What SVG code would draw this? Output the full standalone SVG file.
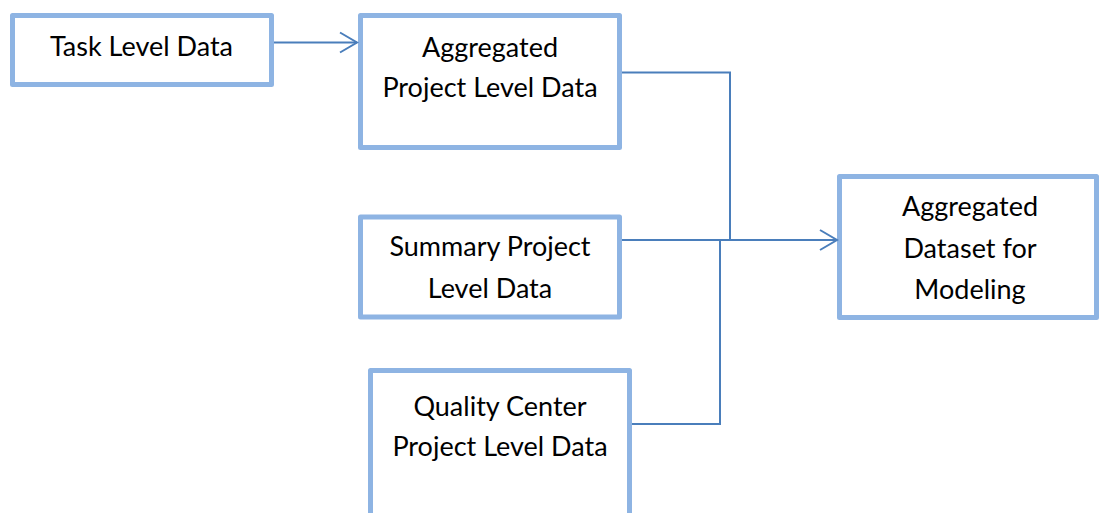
<svg xmlns="http://www.w3.org/2000/svg" width="1101" height="513" viewBox="0 0 1101 513">
<defs>
<style>
.box{fill:#fff;stroke:#8EB4E3;stroke-width:5;stroke-linejoin:round}
.lbl{font-family:Lato,"Liberation Sans",sans-serif;font-size:27px;fill:#000;text-anchor:middle}
.con{fill:none;stroke:#4A7EBB;stroke-width:2}
</style>
<marker id="arr" viewBox="0 0 20 24" refX="18" refY="12" markerWidth="20" markerHeight="24" markerUnits="userSpaceOnUse" orient="auto">
<path d="M1,2 L18,12 L1,22" fill="none" stroke="#4A7EBB" stroke-width="2"/>
</marker>
</defs>
<g id="n1"><rect class="box" x="12.5" y="15.5" width="259" height="69"/><text class="lbl" x="141.5" y="56">Task Level Data</text></g>
<g id="n2"><rect class="box" x="360.5" y="15.5" width="259" height="132"/><text class="lbl" x="490" y="57">Aggregated</text><text class="lbl" x="490" y="97">Project Level Data</text></g>
<g id="n3"><rect class="box" x="360.5" y="217" width="259" height="100"/><text class="lbl" x="490" y="256">Summary Project</text><text class="lbl" x="490" y="298">Level Data</text></g>
<g id="n4"><rect class="box" x="370.5" y="370.5" width="259" height="150"/><text class="lbl" x="500" y="416">Quality Center</text><text class="lbl" x="500" y="456">Project Level Data</text></g>
<g id="n5"><rect class="box" x="839.5" y="176.5" width="257" height="141"/><text class="lbl" x="970" y="216">Aggregated</text><text class="lbl" x="970" y="258">Dataset for</text><text class="lbl" x="970" y="299">Modeling</text></g>
<g id="connectors">
<path class="con" d="M274,42.5 L357,42.5" marker-end="url(#arr)"/>
<path class="con" d="M622,72.5 L730,72.5 L730,240 L837,240" marker-end="url(#arr)"/>
<path class="con" d="M622,240 L730,240"/>
<path class="con" d="M632,424 L720,424 L720,240"/>
</g>
</svg>
